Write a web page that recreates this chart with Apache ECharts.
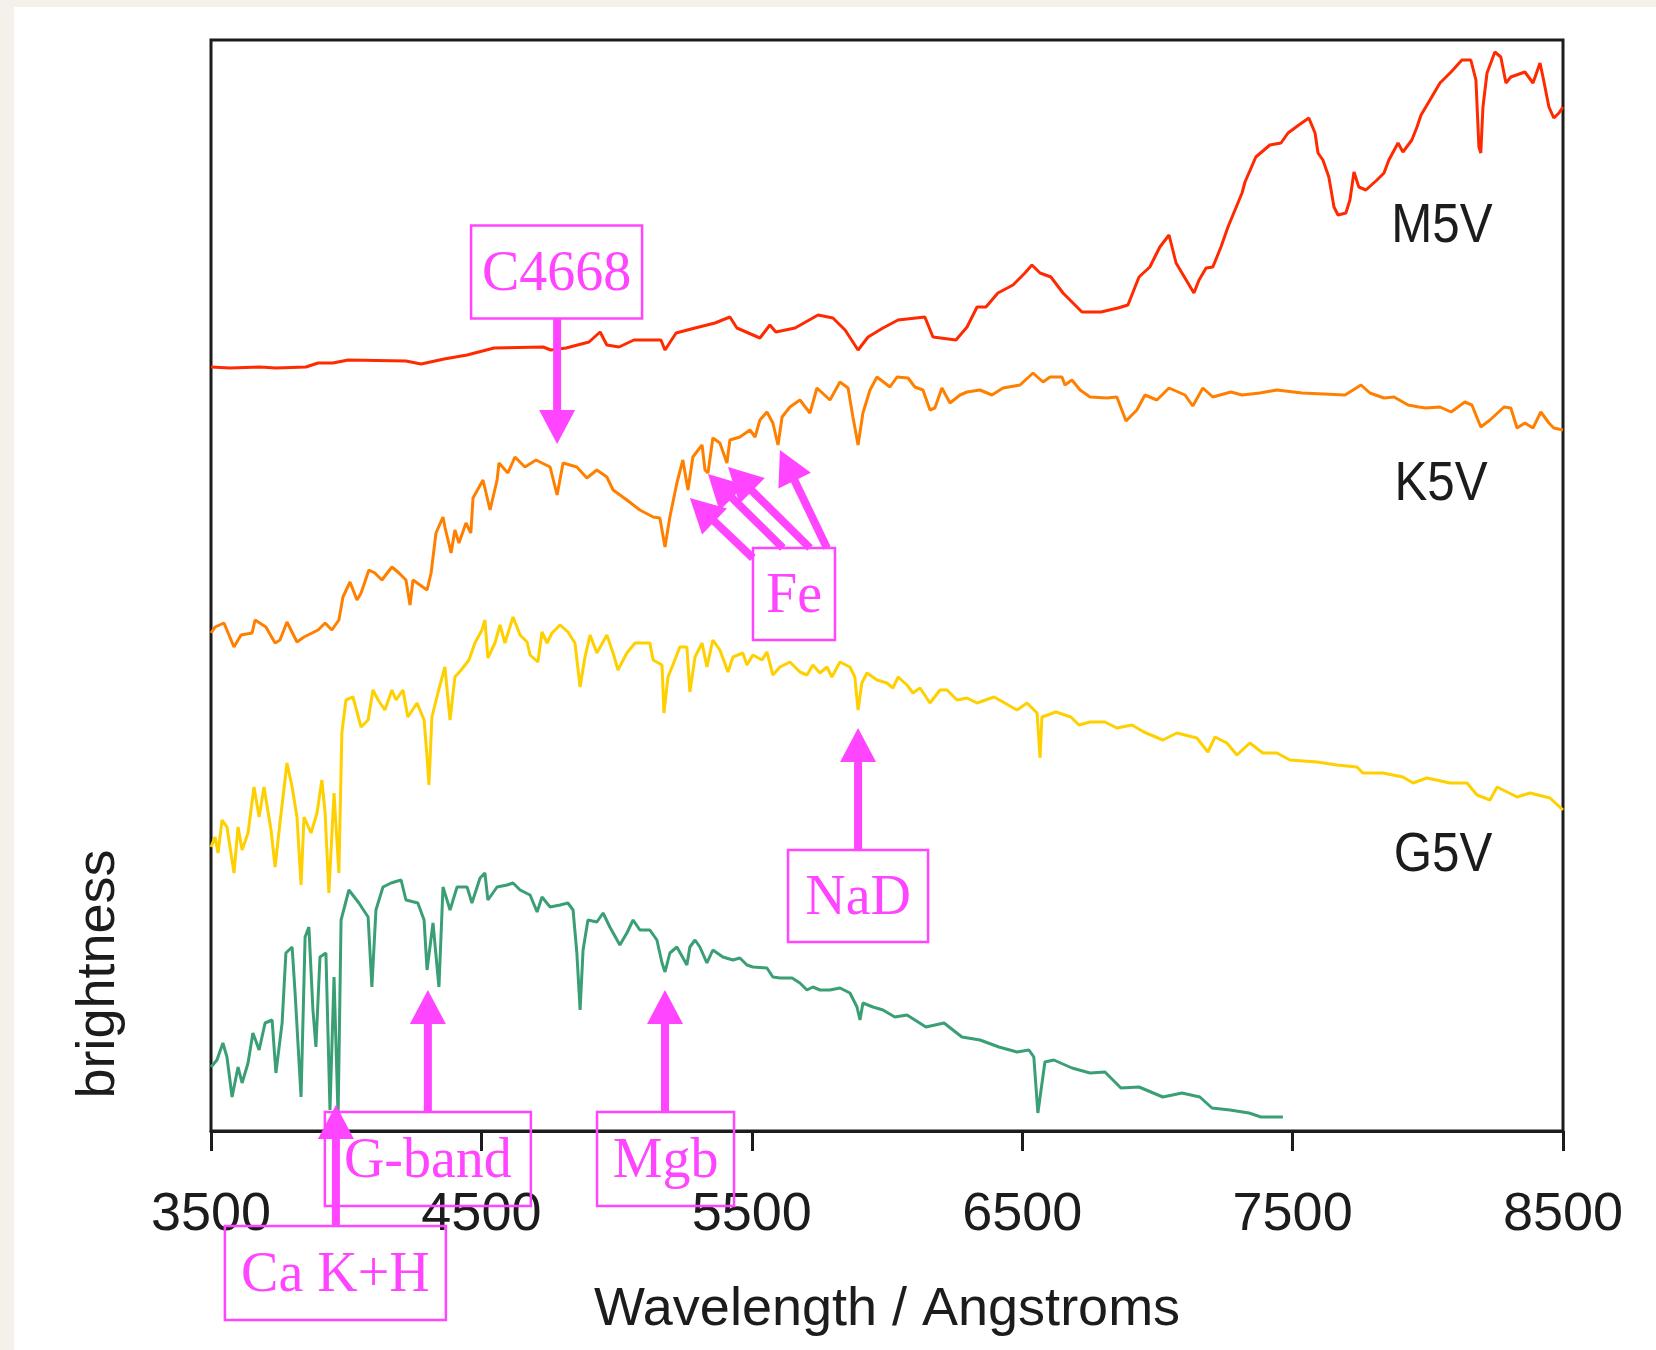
<!DOCTYPE html>
<html>
<head>
<meta charset="utf-8">
<title>Stellar spectra</title>
<script src="https://cdn.jsdelivr.net/npm/echarts@6/dist/echarts.min.js"></script>
<style>
  html, body { margin: 0; padding: 0; width: 1656px; height: 1350px; overflow: hidden; background: #f4f1eb; }
  #panel { position: absolute; left: 14px; top: 7px; right: 0; bottom: 0; background: #ffffff; }
  #chart { position: absolute; left: 0; top: 0; width: 1656px; height: 1350px; }
</style>
</head>
<body>
<div id="panel"></div>
<div id="chart"></div>
<script>
// ---- spectra: wavelength (Angstroms) and relative brightness (offset per star) ----
const m5vWave = [3500,3570,3681,3740,3851,3896,3951,4007,4221,4277,4362,4447,4547,4728,4757,4813,4898,4939,4964,5009,5064,5164,5179,5220,5290,5364,5419,5445,5530,5567,5589,5660,5745,5800,5845,5893,5930,5985,6041,6140,6170,6255,6296,6333,6366,6410,6466,6510,6536,6566,6606,6651,6721,6791,6854,6891,6932,6972,7009,7043,7069,7102,7135,7154,7180,7205,7235,7261,7287,7313,7324,7364,7416,7457,7483,7523,7560,7583,7594,7612,7634,7653,7668,7697,7712,7727,7745,7771,7812,7838,7856,7890,7908,7941,7960,7975,8008,8045,8086,8126,8159,8178,8189,8196,8204,8219,8237,8248,8270,8289,8307,8359,8389,8415,8426,8448,8466,8485,8500];
const m5vFlux = [76.4,76.3,76.4,76.3,76.4,76.8,76.8,77.1,77.0,76.7,77.2,77.6,78.3,78.4,78.1,78.3,78.9,79.9,78.6,78.4,79.1,79.1,78.1,79.8,80.3,80.8,81.4,80.3,79.3,80.6,79.9,80.3,81.6,81.3,80.1,78.1,79.4,80.3,81.1,81.4,79.4,79.1,80.4,82.4,82.4,83.8,84.6,85.8,86.6,85.8,85.4,83.8,81.9,81.9,82.3,82.6,85.4,86.4,88.4,89.6,86.8,85.3,83.8,85.1,86.3,86.4,88.4,90.4,92.1,93.8,94.9,97.4,98.6,98.8,99.8,100.6,101.3,99.8,97.8,97.1,95.4,92.4,91.6,91.8,93.1,95.9,94.4,94.1,95.1,95.8,97.1,98.8,97.9,99.1,100.4,101.6,103.1,104.8,105.9,107.1,107.1,105.1,98.4,97.8,102.4,105.8,107.1,107.9,107.4,104.8,105.4,105.9,104.8,106.8,105.4,102.4,101.3,101.8,102.4];

const k5vWave = [3500,3515,3548,3585,3611,3652,3663,3703,3737,3755,3781,3818,3844,3896,3922,3947,3973,3988,4014,4040,4055,4084,4106,4132,4169,4195,4221,4236,4247,4299,4314,4332,4358,4365,4388,4402,4417,4443,4461,4469,4506,4532,4558,4565,4598,4624,4661,4702,4754,4780,4802,4853,4890,4927,4964,4987,5038,5086,5135,5160,5179,5197,5223,5245,5264,5282,5316,5327,5338,5356,5382,5408,5419,5456,5493,5512,5530,5556,5578,5597,5612,5641,5678,5715,5741,5789,5826,5856,5874,5893,5911,5937,5963,6011,6037,6078,6103,6133,6159,6177,6203,6233,6270,6296,6344,6388,6429,6492,6540,6577,6603,6647,6658,6684,6714,6751,6813,6850,6884,6924,6954,6998,7043,7102,7131,7168,7205,7272,7313,7379,7442,7535,7694,7753,7786,7838,7875,7927,7967,7993,8045,8086,8137,8163,8196,8230,8282,8307,8330,8359,8389,8418,8448,8466,8500];
const k5vFlux = [49.8,50.4,50.8,48.4,49.6,49.8,51.1,50.4,48.8,49.1,50.9,48.9,49.4,50.1,50.8,50.1,51.1,53.4,54.9,53.1,53.8,56.1,55.8,55.1,56.4,55.8,55.1,52.6,55.1,54.1,55.8,59.8,61.4,60.4,57.8,60.1,58.8,60.8,59.8,63.3,65.1,62.1,65.1,66.8,65.8,67.4,66.4,67.1,66.4,63.6,66.8,66.4,65.3,66.1,65.4,64.1,63.1,62.1,61.4,61.3,58.4,61.4,64.8,67.1,64.1,67.4,68.6,66.1,65.8,69.3,68.8,66.8,69.1,69.4,70.1,69.4,71.1,71.9,70.8,68.6,71.4,72.4,73.1,71.8,74.3,73.1,74.9,74.3,71.4,68.6,71.8,74.1,75.4,74.4,75.4,75.3,74.4,74.1,72.1,72.3,74.3,72.8,73.6,73.9,74.1,73.6,74.3,74.6,75.8,74.9,75.4,75.4,74.6,75.1,74.1,73.4,73.3,73.4,71.0,72.1,73.6,73.1,74.3,73.6,72.5,74.3,73.4,73.9,73.6,73.8,74.1,73.8,73.6,74.6,73.8,73.3,73.4,72.6,72.4,72.3,72.4,71.9,72.9,72.6,70.4,71.1,72.4,72.3,70.3,70.8,70.3,71.9,70.8,70.3,70.1];

const g5vWave = [3500,3515,3526,3541,3559,3585,3600,3615,3637,3659,3678,3696,3722,3737,3755,3781,3800,3818,3833,3844,3870,3892,3910,3922,3936,3955,3973,3984,3999,4025,4055,4081,4099,4118,4143,4169,4184,4210,4228,4262,4288,4299,4306,4317,4339,4365,4384,4402,4425,4454,4476,4502,4513,4524,4550,4569,4587,4617,4643,4669,4680,4709,4724,4743,4761,4791,4820,4846,4865,4883,4902,4927,4964,4987,5005,5038,5068,5098,5123,5135,5168,5175,5190,5208,5234,5260,5271,5290,5316,5334,5356,5382,5412,5430,5467,5482,5504,5538,5556,5578,5604,5641,5678,5704,5726,5752,5778,5796,5826,5863,5881,5893,5907,5926,5963,6000,6022,6041,6074,6096,6122,6159,6196,6222,6259,6296,6333,6396,6481,6518,6555,6566,6573,6625,6680,6710,6751,6806,6850,6906,6950,7020,7072,7146,7187,7213,7257,7294,7342,7390,7442,7490,7590,7664,7738,7760,7834,7908,7945,7997,8082,8145,8182,8230,8256,8330,8378,8452,8500];
const g5vFlux = [28.4,29.4,27.8,31.1,30.4,25.8,30.4,28.1,29.8,34.4,31.4,34.4,30.1,26.4,30.8,36.8,34.4,31.4,24.6,31.4,29.8,31.8,35.1,31.8,23.8,33.8,25.8,39.8,43.1,43.4,40.4,41.1,44.1,43.1,42.1,44.1,43.1,44.1,41.4,42.8,41.1,37.4,34.6,41.4,43.8,46.4,41.1,45.4,46.1,47.1,48.8,50.1,51.1,47.3,48.8,50.6,48.8,51.4,49.6,48.9,47.6,46.9,49.9,48.8,49.8,50.6,49.9,48.8,44.4,47.4,49.6,47.8,49.6,47.8,46.1,47.8,48.8,48.8,48.8,47.1,46.6,41.8,45.4,46.6,48.4,48.4,43.9,47.4,48.8,46.4,49.1,48.1,45.9,47.4,47.8,46.6,47.6,47.1,47.9,45.6,46.4,46.9,45.9,45.6,46.6,45.8,46.4,45.4,46.9,46.4,45.4,42.1,44.8,45.8,45.1,44.8,44.3,45.4,44.6,43.8,44.3,42.8,44.1,44.1,43.1,43.3,42.8,43.4,42.1,42.8,41.8,37.3,41.4,41.9,41.4,40.6,40.9,40.9,40.3,40.6,39.9,39.1,39.8,39.3,37.9,39.4,38.8,37.6,38.8,37.8,37.8,37.1,36.9,36.6,36.4,35.8,35.8,35.4,34.8,35.3,34.8,34.8,33.6,33.1,34.4,33.4,33.8,33.3,32.1];

const hotWave = [3500,3522,3544,3559,3578,3600,3615,3637,3655,3678,3700,3726,3740,3763,3777,3800,3811,3833,3848,3862,3877,3888,3903,3925,3940,3955,3970,3981,4010,4047,4081,4095,4110,4136,4166,4203,4221,4265,4288,4299,4321,4343,4358,4384,4410,4447,4465,4495,4513,4524,4558,4595,4617,4643,4680,4706,4724,4754,4791,4820,4839,4853,4865,4876,4894,4927,4950,4975,5012,5038,5061,5086,5123,5149,5168,5179,5197,5223,5260,5271,5290,5308,5334,5356,5393,5430,5456,5482,5504,5556,5578,5604,5649,5678,5704,5726,5752,5789,5826,5863,5889,5900,5911,5948,5985,6029,6074,6144,6211,6277,6344,6414,6481,6525,6543,6558,6584,6617,6684,6751,6806,6865,6932,7020,7091,7157,7202,7268,7339,7383,7464];
const hotFlux = [6.4,7.1,8.8,7.4,3.4,6.4,4.8,6.8,9.8,8.1,10.8,11.1,5.8,10.8,17.8,18.4,13.8,3.4,19.4,20.4,12.1,8.4,17.4,17.8,2.1,15.4,1.4,21.1,24.1,22.8,21.4,14.4,22.1,24.4,24.8,25.1,23.1,22.8,21.1,16.1,20.8,14.4,24.4,22.1,24.4,24.4,22.8,25.3,25.8,23.1,24.4,24.6,24.8,24.1,23.6,21.9,23.4,22.4,22.6,22.8,22.1,17.8,12.1,18.1,21.1,20.9,21.8,20.4,18.6,19.8,21.1,20.1,20.1,19.1,16.8,15.9,17.8,18.4,16.6,18.4,19.1,18.4,16.8,18.1,17.4,17.1,17.3,16.6,16.4,16.3,15.4,15.3,15.3,14.8,14.1,14.4,14.1,14.1,14.3,13.8,12.4,11.1,12.8,12.4,12.1,11.4,11.6,10.4,10.8,9.4,9.1,8.4,7.9,8.1,7.4,1.8,6.9,7.1,6.3,5.8,5.9,4.3,4.4,3.4,3.8,3.4,2.3,2.1,1.8,1.4,1.4];

// ---- x-axis ticks ----
const waveTicks = [3500, 4500, 5500, 6500, 7500, 8500];

// ---- absorption-line callouts: label and the [wavelength, brightness] each arrow points to ----
const lineLabels = ['C4668', 'Fe', 'NaD', 'G-band', 'Mgb', 'Ca K+H'];
const lineTargets = [
  [[4780, 68.7]],
  [[5271, 63.3], [5338, 65.7], [5412, 66.4], [5604, 68.1]],
  [[5893, 40.3]],
  [[4302, 14.1]],
  [[5179, 14.1]],
  [[3962, 2.6]]
];

// ---- star labels ----
const starLabels = ['M5V', 'K5V', 'G5V'];

// ---- layout (placement of boxes, arrow tails and star labels, in axis units) ----
const calloutBoxes = [
  { center: [4778, 85.9], w: 171, h: 93, tails: [[4780, 81.2]] },
  { center: [5656, 53.7], w: 82, h: 92, tails: [[5504, 57.3], [5615, 58.3], [5715, 58.3], [5778, 58.3]] },
  { center: [5893, 23.5], w: 140, h: 92, tails: [[5893, 28.1]] },
  { center: [4302, -2.8], w: 206, h: 94, tails: [[4302, 1.9]] },
  { center: [5181, -2.8], w: 137, h: 94, tails: [[5179, 1.9]] },
  { center: [3960, -14.2], w: 221, h: 94, tails: [[3962, -9.5]] }
];
const starLabelAnchors = [[8052, 90.4], [8049, 64.6], [8056, 27.5]];

const MAGENTA = '#ff45ff';
const INK = '#1c1c1c';
const SANS = '"Liberation Sans", Arial, Helvetica, sans-serif';
const SERIF = '"Liberation Serif", "Times New Roman", serif';

function zip(w, f) {
  const n = Math.min(w.length, f.length);
  const out = [];
  for (let i = 0; i < n; i++) out.push([w[i], f[i]]);
  return out;
}

const spectra = [
  { name: 'M5V', color: '#ff2a00', data: zip(m5vWave, m5vFlux) },
  { name: 'K5V', color: '#ff8000', data: zip(k5vWave, k5vFlux) },
  { name: 'G5V', color: '#ffd000', data: zip(g5vWave, g5vFlux) },
  { name: 'hot', color: '#3a9f75', data: zip(hotWave, hotFlux) }
];

const chart = echarts.init(document.getElementById('chart'), null, { renderer: 'canvas', width: 1656, height: 1350 });

const option = {
  animation: false,
  backgroundColor: 'transparent',
  grid: { left: 211, right: 93, top: 40, bottom: 219, show: true, borderColor: INK, borderWidth: 3, backgroundColor: 'transparent' },
  xAxis: {
    type: 'value', min: waveTicks[0], max: waveTicks[waveTicks.length - 1], interval: waveTicks[1] - waveTicks[0],
    axisLine: { show: true, onZero: false, lineStyle: { color: INK, width: 3 } },
    axisTick: { show: true, inside: false, length: 20, lineStyle: { color: INK, width: 3 } },
    axisLabel: { margin: 57, fontSize: 54, fontFamily: SANS, color: INK, showMinLabel: true, showMaxLabel: true,
      formatter: v => String(v) },
    splitLine: { show: false },
    name: 'Wavelength / Angstroms', nameLocation: 'middle', nameGap: 152,
    nameTextStyle: { fontSize: 54, fontFamily: SANS, color: INK }
  },
  yAxis: { type: 'value', min: 0, max: 109.1, show: false, splitLine: { show: false } },
  series: spectra.map(s => ({
    type: 'line', name: s.name, data: s.data, showSymbol: false, symbol: 'none', silent: true,
    clip: true, lineStyle: { color: s.color, width: 3 }, itemStyle: { color: s.color }
  }))
};

chart.setOption(option);

const toPx = p => chart.convertToPixel({ gridIndex: 0 }, p);
const HEAD_LEN = 34, HEAD_HALF = 18, SHAFT = 8;
const graphics = [];

function addArrow(tail, tip) {
  const dx = tip[0] - tail[0], dy = tip[1] - tail[1];
  const len = Math.hypot(dx, dy);
  const ux = dx / len, uy = dy / len;
  const bx = tip[0] - ux * HEAD_LEN, by = tip[1] - uy * HEAD_LEN;
  const nx = -uy, ny = ux;
  graphics.push({ type: 'line', silent: true, z: 100,
    shape: { x1: tail[0], y1: tail[1], x2: bx + ux * 3, y2: by + uy * 3 },
    style: { stroke: MAGENTA, lineWidth: SHAFT, lineCap: 'butt' } });
  graphics.push({ type: 'polygon', silent: true, z: 100,
    shape: { points: [[tip[0], tip[1]], [bx + nx * HEAD_HALF, by + ny * HEAD_HALF], [bx - nx * HEAD_HALF, by - ny * HEAD_HALF]] },
    style: { fill: MAGENTA } });
}

lineLabels.forEach((label, i) => {
  const box = calloutBoxes[i];
  const c = toPx(box.center);
  lineTargets[i].forEach((target, k) => addArrow(toPx(box.tails[k]), toPx(target)));
  graphics.push({ type: 'rect', silent: true, z: 101,
    shape: { x: c[0] - box.w / 2, y: c[1] - box.h / 2, width: box.w, height: box.h },
    style: { fill: 'none', stroke: MAGENTA, lineWidth: 2.5 } });
  graphics.push({ type: 'text', silent: true, z: 102, x: c[0], y: c[1] + 3,
    style: { text: label, font: '56px ' + SERIF, fill: MAGENTA, align: 'center', verticalAlign: 'middle' } });
});

starLabels.forEach((label, i) => {
  const p = toPx(starLabelAnchors[i]);
  graphics.push({ type: 'text', silent: true, z: 90, x: p[0], y: p[1], scaleX: 0.88,
    style: { text: label, font: '56px ' + SANS, fill: INK, align: 'center', verticalAlign: 'middle' } });
});

// vertical axis caption
graphics.push({ type: 'text', silent: true, z: 90, x: 99, y: 974, rotation: Math.PI / 2,
  style: { text: 'brightness', font: '54px ' + SANS, fill: INK, align: 'center', verticalAlign: 'middle' } });

chart.setOption({ graphic: { elements: graphics } });
</script>
</body>
</html>
